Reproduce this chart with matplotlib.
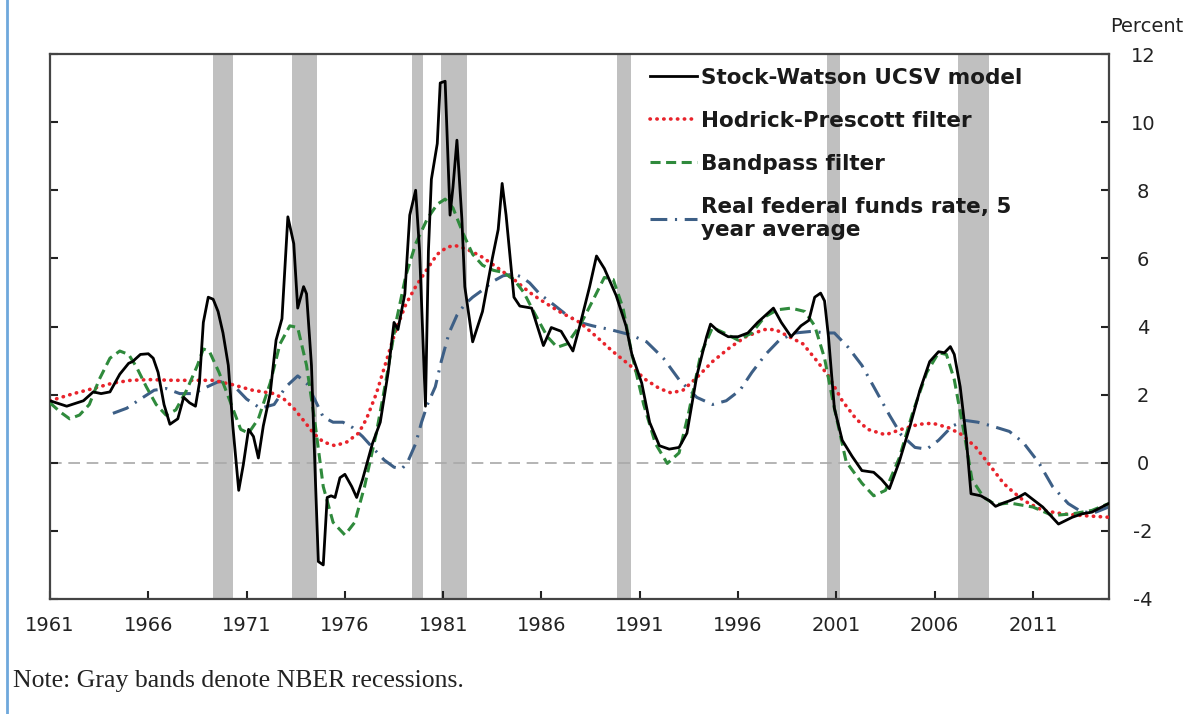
import numpy as np
import matplotlib
matplotlib.use('Agg')
import matplotlib.pyplot as plt
from matplotlib.lines import Line2D

# --- данные ---
sw_year = [1961.0, 1961.85, 1962.7, 1963.2, 1963.6, 1964.05, 1964.55, 1965.0, 1965.2, 1965.6, 1966.0,
           1966.25, 1966.5, 1966.8, 1967.1, 1967.5, 1967.8, 1968.1, 1968.4, 1968.6, 1968.8, 1969.05,
           1969.3, 1969.55, 1969.8, 1970.07, 1970.3, 1970.6, 1970.83, 1971.1, 1971.35, 1971.6, 1971.85,
           1972.2, 1972.5, 1972.8, 1973.1, 1973.4, 1973.6, 1973.9, 1974.05, 1974.3, 1974.5, 1974.65,
           1974.9, 1975.1, 1975.3, 1975.5, 1975.75, 1976.0, 1976.35, 1976.6, 1976.9, 1977.4, 1977.8,
           1978.2, 1978.5, 1978.7, 1979.05, 1979.3, 1979.6, 1979.8, 1980.1, 1980.25, 1980.4, 1980.7,
           1980.85, 1981.1, 1981.35, 1981.5, 1981.7, 1981.95, 1982.1, 1982.5, 1983.0, 1983.5, 1983.8,
           1984.0, 1984.2, 1984.6, 1984.9, 1985.5, 1986.1, 1986.5, 1987.0, 1987.6, 1987.95, 1988.45,
           1988.8, 1989.2, 1989.8, 1990.3, 1990.6, 1991.1, 1991.5, 1992.0, 1992.5, 1993.0, 1993.4,
           1993.9, 1994.4, 1994.6, 1995.0, 1995.5, 1996.0, 1996.5, 1997.0, 1997.8, 1998.2, 1998.7,
           1999.2, 1999.6, 1999.9, 2000.2, 2000.4, 2000.6, 2000.9, 2001.3, 2001.8, 2002.3, 2002.9,
           2003.3, 2003.7, 2004.2, 2004.75, 2005.25, 2005.75, 2006.2, 2006.5, 2006.8, 2007.0, 2007.3,
           2007.6, 2007.85, 2008.35, 2008.8, 2009.1, 2009.5, 2009.8, 2010.3, 2010.6, 2011.5, 2012.3,
           2013.0, 2013.5, 2014.0, 2014.5, 2014.85]
sw_val = [1.82, 1.66, 1.82, 2.08, 2.03, 2.08, 2.6, 2.92, 2.97, 3.18, 3.2,
          3.07, 2.65, 1.71, 1.13, 1.29, 1.92, 1.76, 1.66, 2.34, 4.12, 4.86,
          4.8, 4.44, 3.81, 2.86, 1.08, -0.81, -0.07, 0.98, 0.77, 0.14, 1.08,
          2.03, 3.6, 4.23, 7.22, 6.43, 4.54, 5.17, 4.96, 2.86, -0.49, -2.9,
          -3.0, -1.02, -0.97, -1.02, -0.44, -0.34, -0.7, -1.02, -0.49, 0.56, 1.19,
          2.65, 4.12, 3.91, 4.96, 7.27, 8.0, 6.22, 1.66, 6.22, 8.32, 9.37,
          11.15, 11.2, 7.27, 8.1, 9.47, 7.17, 5.17, 3.55, 4.44, 6.0, 6.85,
          8.2, 7.27, 4.86, 4.6, 4.54, 3.44, 3.97, 3.86, 3.28, 4.02, 5.17,
          6.07, 5.7, 4.91, 4.02, 3.18, 2.34, 1.19, 0.5, 0.4, 0.45, 0.87,
          2.55, 3.7, 4.07, 3.86, 3.7, 3.7, 3.81, 4.12, 4.54, 4.12, 3.7,
          4.02, 4.18, 4.86, 4.98, 4.75, 3.7, 1.6, 0.66, 0.19, -0.23, -0.28,
          -0.49, -0.76, 0.03, 1.08, 2.13, 2.97, 3.26, 3.23, 3.41, 3.18, 2.23,
          0.77, -0.91, -0.97, -1.12, -1.28, -1.18, -1.12, -1.0, -0.9, -1.3, -1.8,
          -1.6, -1.5, -1.45, -1.3, -1.2]

hp_year = [1961.0, 1962.2, 1963.2, 1964.2, 1965.1, 1966.1, 1967.3, 1968.3, 1969.3, 1970.3, 1971.3,
           1972.4, 1972.9, 1973.4, 1973.9, 1974.4, 1974.9, 1975.5, 1976.1, 1976.7, 1977.1, 1977.6,
           1978.1, 1978.6, 1979.1, 1979.6, 1980.2, 1980.7, 1981.2, 1981.6, 1982.2, 1982.9, 1983.7,
           1984.6, 1985.4, 1985.9, 1986.9, 1987.95, 1988.8, 1989.6, 1990.5, 1991.3, 1992.0, 1992.6,
           1993.2, 1993.9, 1994.7, 1995.6, 1996.4, 1997.3, 1997.9, 1998.6, 1999.3, 1999.9, 2000.6,
           2001.3, 2002.0, 2002.6, 2003.5, 2004.3, 2005.2, 2005.9, 2006.7, 2007.4, 2008.1, 2008.8,
           2009.5, 2009.8, 2010.5, 2011.5, 2012.5, 2013.5, 2014.85]
hp_val = [1.82, 2.03, 2.18, 2.34, 2.42, 2.44, 2.42, 2.42, 2.42, 2.29, 2.13,
          2.03, 1.87, 1.6, 1.24, 0.87, 0.61, 0.5, 0.61, 0.87, 1.29, 2.03,
          2.97, 3.91, 4.65, 5.17, 5.7, 6.12, 6.33, 6.38, 6.27, 6.07, 5.75,
          5.38, 5.0, 4.8, 4.44, 4.12, 3.7, 3.28, 2.86, 2.44, 2.18, 2.05,
          2.13, 2.5, 2.97, 3.39, 3.7, 3.91, 3.91, 3.7, 3.49, 3.07, 2.55,
          1.82, 1.29, 0.98, 0.82, 0.98, 1.13, 1.16, 1.03, 0.82, 0.45, -0.07,
          -0.6, -0.76, -1.1, -1.4, -1.5, -1.55, -1.6]

bp_year = [1961.0, 1961.5, 1962.0, 1962.5, 1963.0, 1963.5, 1964.05, 1964.55, 1965.0, 1965.4, 1965.9,
           1966.4, 1966.9, 1967.4, 1967.95, 1968.5, 1968.8, 1969.1, 1969.6, 1970.15, 1970.7, 1971.1,
           1971.6, 1972.2, 1972.7, 1973.2, 1973.6, 1974.05, 1974.5, 1974.9, 1975.4, 1976.0, 1976.5,
           1977.0, 1977.6, 1978.1, 1978.6, 1979.1, 1979.6, 1980.2, 1980.7, 1981.1, 1981.5, 1982.0,
           1982.5, 1983.0, 1983.55, 1984.05, 1984.6, 1985.1, 1985.6, 1986.3, 1986.8, 1987.3, 1987.95,
           1988.6, 1989.2, 1989.65, 1990.15, 1990.6, 1991.2, 1991.8, 1992.4, 1993.0, 1993.5, 1994.1,
           1994.7, 1995.3, 1996.0, 1996.7, 1997.35, 1998.0, 1998.7, 1999.4, 1999.9, 2000.4, 2000.9,
           2001.5, 2002.3, 2002.9, 2003.5, 2004.2, 2004.9, 2005.6, 2006.2, 2006.6, 2007.0, 2007.5,
           2007.9, 2008.5, 2009.1, 2009.8, 2011.0, 2012.0, 2013.0, 2014.0, 2014.85]
bp_val = [1.76, 1.5, 1.29, 1.4, 1.71, 2.44, 3.07, 3.28, 3.18, 2.81, 2.23,
          1.71, 1.4, 1.55, 2.13, 2.86, 3.34, 3.28, 2.65, 1.82, 0.98, 0.87,
          1.29, 2.34, 3.49, 4.02, 3.97, 2.86, 1.08, -0.7, -1.75, -2.12, -1.75,
          -0.7, 0.87, 2.44, 4.12, 5.49, 6.43, 7.17, 7.59, 7.74, 7.48, 6.75,
          6.12, 5.8, 5.65, 5.59, 5.38, 5.0, 4.44, 3.7, 3.39, 3.49, 4.02,
          4.75, 5.44, 5.38, 4.54, 3.18, 1.71, 0.56, -0.02, 0.29, 1.5, 3.18,
          3.97, 3.81, 3.6, 3.81, 4.28, 4.49, 4.54, 4.44, 4.02, 3.07, 1.6,
          0.03, -0.6, -0.97, -0.81, 0.14, 1.5, 2.65, 3.23, 3.18, 2.44, 0.87,
          -0.49, -1.02, -1.23, -1.18, -1.3, -1.55, -1.5, -1.4, -1.2]

ff_year = [1964.2, 1964.9, 1965.6, 1966.3, 1966.9, 1967.6, 1968.3, 1969.0, 1969.6, 1970.3, 1971.0,
           1971.7, 1972.4, 1973.0, 1973.6, 1974.05, 1974.5, 1974.9, 1975.4, 1975.9, 1976.4, 1976.9,
           1977.4, 1978.0, 1978.5, 1978.9, 1979.2, 1979.6, 1979.9, 1980.2, 1980.6, 1980.9, 1981.3,
           1981.7, 1982.1, 1982.5, 1983.0, 1983.55, 1984.05, 1984.6, 1985.0, 1985.4, 1985.9, 1986.6,
           1987.3, 1987.95, 1988.6, 1989.5, 1990.5, 1991.35, 1992.2, 1993.0, 1993.9, 1994.7, 1995.4,
           1996.1, 1996.7, 1997.4, 1998.1, 1998.9, 1999.8, 2000.4, 2000.9, 2001.6, 2002.3, 2003.0,
           2003.7, 2004.3, 2005.0, 2005.6, 2006.2, 2006.9, 2007.6, 2008.2, 2008.9, 2009.8, 2010.5,
           2011.3, 2012.0, 2012.8, 2013.5, 2014.2, 2014.85]
ff_val = [1.45, 1.6, 1.87, 2.13, 2.18, 2.03, 2.03, 2.23, 2.39, 2.29, 1.87,
          1.6, 1.71, 2.23, 2.55, 2.34, 1.82, 1.34, 1.19, 1.19, 1.03, 0.77,
          0.45, 0.08, -0.13, -0.18, 0.03, 0.56, 1.19, 1.71, 2.23, 2.97, 3.81,
          4.33, 4.65, 4.86, 5.07, 5.33, 5.49, 5.54, 5.45, 5.28, 4.96, 4.65,
          4.33, 4.12, 4.02, 3.91, 3.76, 3.55, 3.07, 2.44, 1.92, 1.71, 1.82,
          2.13, 2.65, 3.18, 3.6, 3.81, 3.86, 3.81, 3.81, 3.39, 2.86, 2.13,
          1.4, 0.82, 0.45, 0.4, 0.66, 1.08, 1.24, 1.19, 1.08, 0.92, 0.6,
          0.0, -0.7, -1.2, -1.45, -1.45, -1.3]

# NBER рецессии (в координатах оси, как на картинке)
rec_start = [1969.3, 1973.3, 1979.4, 1980.9, 1989.85, 2000.5, 2007.2]
rec_end = [1970.3, 1974.6, 1979.95, 1982.2, 1990.55, 2001.2, 2008.75]

year_ticks = [1961, 1966, 1971, 1976, 1981, 1986, 1991, 1996, 2001, 2006, 2011]
pct_ticks = [-4, -2, 0, 2, 4, 6, 8, 10, 12]

plt.rcParams['font.family'] = ['DejaVu Sans']
plt.rcParams['axes.unicode_minus'] = False

fig = plt.figure(figsize=(11.88, 7.14), dpi=100)
ax = fig.add_axes([50 / 1188, 1 - 599 / 714, (1109 - 50) / 1188, (599 - 54) / 714])

for s, e in zip(rec_start, rec_end):
    ax.axvspan(s, e, color='#c0c0c0', lw=0, zorder=0)

ax.axhline(0, color='#a8a8a8', lw=1.2, ls=(0, (7, 4)), zorder=1)

ax.plot(ff_year, ff_val, color='#3d5f86', lw=2.2, ls=(0, (5.5, 2.5, 0.7, 2.5)), zorder=2,
        label='Real federal funds rate, 5\nyear average')
ax.plot(hp_year, hp_val, color='#e8232b', lw=2.6, ls=(0, (0.1, 1.8)), dash_capstyle='round', zorder=3,
        label='Hodrick-Prescott filter')
ax.plot(bp_year, bp_val, color='#2f8a3c', lw=2.2, ls=(0, (3.3, 1.8)), zorder=4, label='Bandpass filter')
ax.plot(sw_year, sw_val, color='black', lw=2.0, zorder=5, label='Stock-Watson UCSV model')

ax.set_xlim(1961, 2014.87)
ax.set_ylim(-4, 12)
ax.set_xticks(year_ticks)
ax.set_xticklabels([str(y) for y in year_ticks])
ax.set_yticks(pct_ticks)
ax.yaxis.tick_right()
ax.tick_params(axis='both', direction='in', labelsize=14, colors='#222222', length=6, width=1.5)
ax.tick_params(axis='y', left=True, right=True, pad=24.5)
ax.tick_params(axis='x', pad=12)
for lab in ax.get_yticklabels():
    lab.set_horizontalalignment('center')
for sp in ax.spines.values():
    sp.set_color('#444444')
    sp.set_linewidth(1.6)

h = ax.get_legend_handles_labels()
order = [3, 1, 2, 0]
leg = ax.legend([h[0][i] for i in order], [h[1][i] for i in order],
                loc='upper left', bbox_to_anchor=(0.558, 0.991), frameon=False, borderaxespad=0,
                prop={'weight': 'bold', 'size': 15.5}, handlelength=2.2, handletextpad=0.2,
                labelspacing=1.08)
for t in leg.get_texts():
    t.set_color('#1a1a1a')

fig.text(1183 / 1188, 1 - 27 / 714, 'Percent', ha='right', va='center', fontsize=14, color='#222222')
fig.text(13 / 1188, 1 - 681 / 714, 'Note: Gray bands denote NBER recessions.', ha='left', va='center',
         fontsize=18.5, family=['Liberation Serif', 'DejaVu Serif'], color='#222222')

# синяя полоска по левому краю, как на скриншоте
fig.add_artist(Line2D([7 / 1188, 7 / 1188], [0, 1], transform=fig.transFigure, color='#6fa8dc', lw=2))

fig.savefig('out.png', dpi=100)
